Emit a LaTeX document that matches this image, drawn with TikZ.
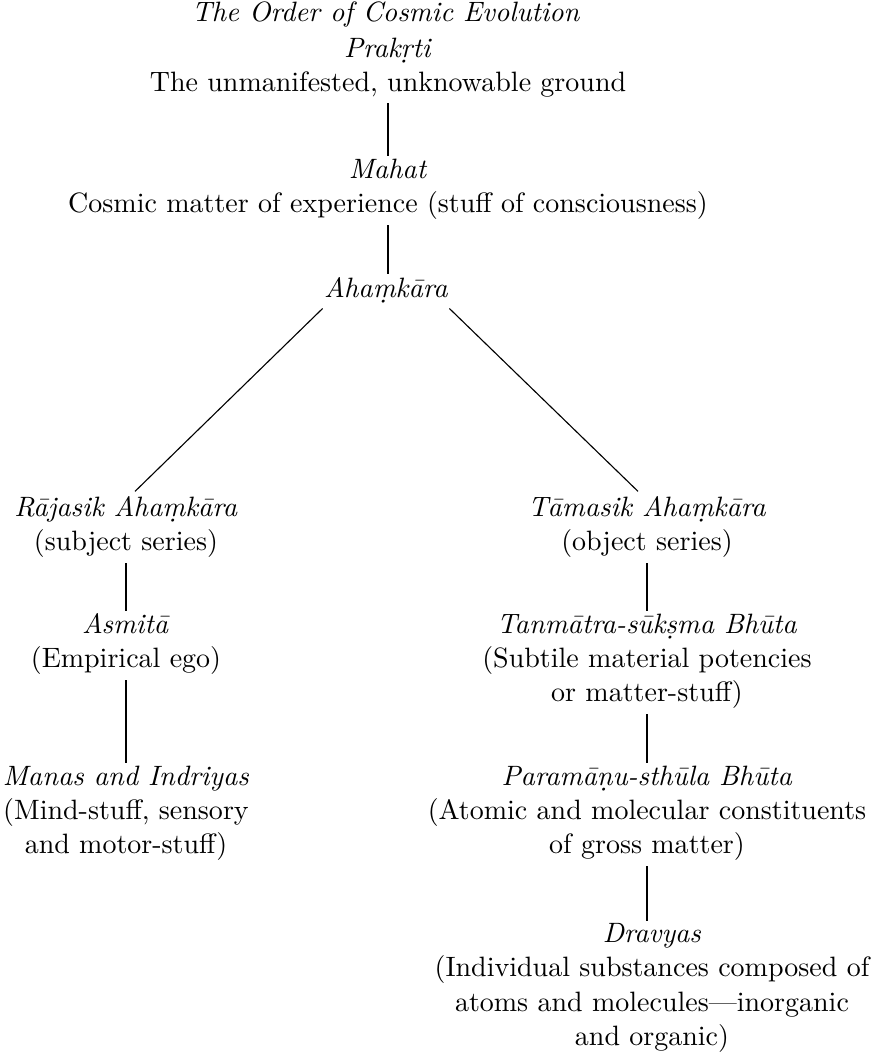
\documentclass[tikz,border=0pt]{standalone}

\tikzstyle{stage} = [align = center, font = \fontsize{10pt}{12.2pt}\selectfont]
\tikzstyle{link} = [draw, line width = 0.4pt, shorten <= -1.5pt, shorten >= -2.5pt]

\begin{document}
\begin{tikzpicture}[x = 0.3571pt, y = -0.3571pt]
        \def\colC{388}
        \def\colL{126}
        \def\colR{647}

        \useasboundingbox (0, 0) rectangle (881, 1057);

        \node[stage] (title) at (386, 14) {\textit{The Order of Cosmic Evolution}};
        \node[stage] (prakrti) at (\colC, 68) {\textit{Prakṛti}\\The unmanifested, unknowable ground};
        \node[stage] (mahat) at (\colC, 189) {\textit{Mahat}\\Cosmic matter of experience (stuff of consciousness)};
        \node[stage] (ahamkara) at (386, 290) {\textit{Ahaṃkāra}};

        \node[stage] (rajasik) at (\colL, 527) {\textit{Rājasik Ahaṃkāra}\\(subject series)};
        \node[stage] (asmita) at (\colL, 644) {\textit{Asmitā}\\(Empirical ego)};
        \node[stage] (manas) at (\colL, 813) {\textit{Manas and Indriyas}\\(Mind-stuff, sensory\\and motor-stuff)};

        \node[stage] (tamasik) at (\colR, 527) {\textit{Tāmasik Ahaṃkāra}\\(object series)};
        \node[stage] (tanmatra) at (\colR, 661) {\textit{Tanmātra-sūkṣma Bhūta}\\(Subtile material potencies\\or matter-stuff)};
        \node[stage] (paramanu) at (\colR, 813) {\textit{Paramāṇu-sthūla Bhūta}\\(Atomic and molecular constituents\\of gross matter)};
        \node[stage] (dravyas) at (652, 988) {\textit{Dravyas}\\(Individual substances composed of\\atoms and molecules---inorganic\\and organic)};

        \path[link] (prakrti.south) -- (prakrti.south |- mahat.north);
        \path[link] (mahat.south) -- (mahat.south |- ahamkara.north);

        \path[link, shorten <= 0pt] ([xshift = 3pt, yshift = 1.5pt]ahamkara.south west) -- ([xshift = 5pt]rajasik.north);
        \path[link, shorten <= 0pt] ([xshift = -3pt, yshift = 1.5pt]ahamkara.south east) -- ([xshift = -5pt]tamasik.north);

        \path[link] (rajasik.south) -- (rajasik.south |- asmita.north);
        \path[link] (asmita.south) -- (asmita.south |- manas.north);

        \path[link] (tamasik.south) -- (tamasik.south |- tanmatra.north);
        \path[link] (tanmatra.south) -- (tanmatra.south |- paramanu.north);
        \path[link] (paramanu.south) -- (paramanu.south |- dravyas.north);
    \end{tikzpicture}
\end{document}
